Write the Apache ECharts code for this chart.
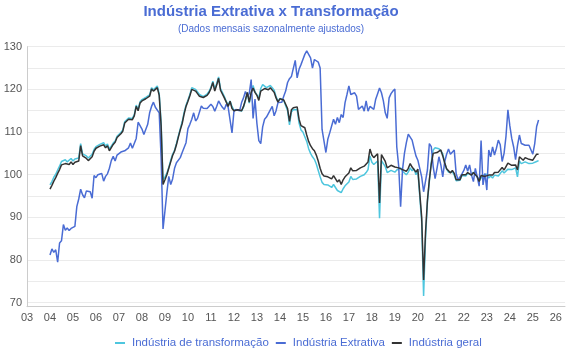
<!DOCTYPE html>
<html><head><meta charset="utf-8">
<script src="https://cdn.jsdelivr.net/npm/echarts@6/dist/echarts.min.js"></script>
<style>html,body{margin:0;padding:0;background:#fff}#c{width:570px;height:360px}</style>
</head><body><div id="c"></div>
<script>
// Monthly data, Jan 2004 .. Apr 2025
const startYear = 2004;
const transformacao = [
 97.6, 98.4, 99.4,100.1,101.1,102.0,103.1,103.4,103.5,103.0,103.2,103.8,
 103.2,103.7,103.8,103.9,107.3,104.9,104.7,104.4,103.9,103.6,104.8,105.9,
 106.6,106.2,107.1,106.8,107.5,106.7,107.2,106.0,105.7,107.4,107.9,109.0,
 109.2,109.9,110.5,112.4,112.8,113.3,112.9,113.2,114.1,116.3,115.3,117.1,
 117.6,117.8,118.1,118.4,118.7,120.4,119.9,119.5,120.8,119.0,112.3, 98.7,
 99.5,100.4,101.7,103.4,104.8,105.7,107.3,109.1,110.8,112.4,114.6,116.3,
 117.5,118.8,120.4,120.7,120.0,119.4,118.8,118.4,118.3,118.6,118.9,119.5,
 120.5,121.9,120.0,121.4,122.9,120.2,119.9,118.3,117.2,116.3,117.3,116.0,
 115.1,114.9,115.2,114.9,114.9,115.8,117.4,119.3,116.8,119.0,120.9,119.4,
 119.0,118.0,120.2,121.1,120.9,120.4,120.5,120.9,120.4,119.8,118.3,117.1,
 117.9,118.0,117.4,117.4,115.0,111.7,114.7,115.2,115.0,115.3,112.1,110.5,
 110.0,109.6,107.8,106.1,105.0,104.2,103.6,102.5,101.0, 99.5, 98.2, 97.7,
 97.9, 97.6, 97.8, 97.0, 97.7, 97.3, 96.3, 96.7, 95.8, 96.7, 97.4, 97.7,
 98.3, 99.6, 98.9, 98.9, 99.0, 98.9, 99.6, 99.6,100.0,100.5,101.2,104.4,
 102.9,102.4,102.6,103.2, 89.8,103.3,103.4,101.9,100.5,100.9,101.0,100.8,
 100.6,101.1,101.5,101.6,100.8,101.0,100.0,100.6,101.6,100.9,101.4,100.0,
 100.8,100.6, 89.0, 71.6, 85.0, 93.6, 98.5,102.9,105.8,106.3,105.9,106.1,
 106.2,104.9,102.8,101.3,100.6,100.2,100.7, 99.9, 98.6, 98.8, 98.7, 99.8,
 99.9, 99.7,100.3,100.0, 99.9,100.6,100.0, 99.5, 98.5, 98.9, 99.9, 99.5,
 100.1, 99.2, 99.7, 99.2, 99.9,100.1, 99.7,100.1,100.9,100.4,100.8,101.3,
 101.1,101.2,101.0,101.6, 99.5,103.2,102.6,102.4,103.0,102.6,102.6,102.4,
 102.7,102.6,103.1,103.3
];
const extrativa = [
 81.2, 82.6, 81.8, 82.4, 79.5, 84.0, 84.5, 88.3, 87.0, 87.5, 86.9, 87.4,
 87.0, 87.9, 92.5, 94.3, 96.6, 95.3, 94.6, 96.2, 96.4, 96.0, 94.5, 99.8,
 99.3,100.0, 99.7,100.3, 98.5, 99.6,100.2,101.5,103.3,104.3,103.2,104.6,
 105.0,105.3,105.5,105.6,106.0,106.3,107.4,106.2,106.0,108.5,112.3,112.4,
 110.7,109.4,109.8,111.8,114.5,116.0,117.0,115.8,116.2,114.5,104.0, 87.3,
 91.5, 95.8, 99.6, 97.7, 99.0,101.5,102.8,103.2,104.0,105.2,104.8,107.5,
 110.8,111.8,113.0,114.5,112.6,113.2,113.0,116.1,115.6,115.3,115.5,115.7,
 116.5,116.0,114.9,116.0,117.3,116.5,115.8,115.3,116.5,115.8,116.2,109.8,
 114.8,115.3,115.7,115.0,116.9,118.0,119.5,118.3,119.0,122.3,113.2,117.7,
 112.0,108.0,107.3,111.2,113.0,113.5,113.8,115.2,116.0,113.8,115.0,116.9,
 116.8,117.0,118.4,119.6,121.6,122.5,123.0,122.8,126.8,122.7,124.7,125.8,
 127.0,128.2,129.0,128.6,127.4,125.0,127.0,126.6,126.4,125.0,110.6,110.2,
 105.2,108.3,109.8,111.4,113.0,111.8,113.4,112.2,114.1,113.4,116.9,118.8,
 120.8,118.8,118.8,119.2,118.4,115.3,114.9,116.1,114.9,117.3,114.9,116.0,
 116.0,115.3,117.7,119.0,120.3,119.2,117.3,114.5,113.2,118.0,119.0,119.6,
 120.1,106.5,102.0, 92.5,101.2,105.0,107.5,109.5,109.4,108.1,106.2,104.4,
 103.4,103.0, 99.5, 96.0, 98.5,101.1,107.3,106.6,101.9, 99.1,101.5,104.2,
 102.3, 99.5,103.0,104.8,106.0,104.8,104.5,105.8,100.2, 98.8, 99.1,100.2,
 101.0,102.3,100.8,102.3, 99.9, 98.4,101.5, 99.5, 97.3,108.0, 97.6,100.3,
 96.4,105.8,104.2,106.5,104.6,106.2,108.1,107.0,103.1,105.0,109.0,115.2,
 111.5,108.5,106.5,103.5,106.8,109.3,107.3,107.7,106.9,106.6,106.9,107.3,
 104.8,107.3,111.3,112.8
];
const geral = [
 96.6, 97.5, 98.5, 99.3,100.3,101.2,102.3,102.5,102.6,102.2,102.4,103.0,
 102.4,102.9,103.0,103.2,106.8,104.4,104.1,103.8,103.3,103.0,104.2,105.5,
 106.2,105.8,106.7,106.4,107.0,106.3,106.8,105.6,105.4,107.1,107.6,108.7,
 108.9,109.6,110.2,112.1,112.5,113.0,112.6,112.9,113.8,116.0,115.0,116.8,
 117.3,117.5,117.8,118.2,118.4,120.1,119.6,119.2,120.4,118.6,111.5, 97.7,
 98.8,100.0,101.5,103.0,104.5,105.5,107.0,108.8,110.5,112.0,114.2,116.0,
 117.2,118.5,120.0,120.4,119.6,119.0,118.4,118.2,118.1,118.3,118.6,119.2,
 120.2,121.6,119.6,121.0,122.6,119.8,119.5,118.0,117.0,116.0,117.2,115.5,
 115.0,114.9,115.2,114.9,115.0,116.0,117.5,119.3,117.0,119.3,120.3,119.3,
 118.6,117.4,119.6,120.0,120.2,119.8,119.9,120.4,120.0,119.3,118.0,117.0,
 117.8,118.0,117.5,117.6,115.5,112.5,115.2,115.7,115.8,115.9,113.0,111.5,
 111.3,111.0,109.3,107.8,106.8,106.1,105.6,104.6,103.2,101.5,100.2, 99.7,
 99.8, 99.5, 99.7, 99.0, 99.8, 99.4, 98.3, 98.8, 97.7, 98.8, 99.5, 99.8,
 100.4,101.6,100.9,100.9,101.0,100.9,101.6,101.6,102.0,102.4,103.0,106.0,
 104.6,104.0,104.3,104.9, 93.4,104.7,104.8,103.1,101.6,102.0,102.2,101.9,
 101.8,101.5,101.6,101.4,101.2,101.6,100.8,101.5,102.6,101.8,102.2,100.6,
 101.3,101.0, 90.0, 75.3, 86.5, 94.0, 98.8,102.5,105.0,105.4,105.2,105.6,
 105.8,104.4,102.8,101.4,100.9,100.4,101.0,100.3, 98.8, 98.9, 98.8,100.0,
 100.1,100.0,100.5,100.3, 99.9,100.5,100.2, 99.5, 98.4, 99.8, 99.9, 99.6,
 99.8, 99.9,100.3, 99.9,100.5,100.8,100.6,101.0,101.7,101.1,101.9,102.7,
 102.3,102.2,101.9,102.3,101.1,104.2,103.8,103.4,104.0,103.6,103.6,103.4,
 103.4,103.5,104.8,104.8
];
const seriesNames = ['Indústria de transformação', 'Indústria Extrativa', 'Indústria geral'];
const seriesColors = ['#4ec6de', '#4a6cd4', '#333333'];
const titleText = 'Indústria Extrativa x Transformação';
const subtitleText = '(Dados mensais sazonalmente ajustados)';

function toPairs(arr){ return arr.map((v,i)=>[startYear + i/12, v]); }

const chart = echarts.init(document.getElementById('c'), null, {renderer:'canvas'});
const font = "'Liberation Sans', Arial, sans-serif";
chart.setOption({
  animation: false,
  backgroundColor: '#fff',
  textStyle: {fontFamily: font},
  title: [
    {text: titleText, left: 271, top: 4, textAlign: 'center', padding: 0,
     textStyle: {fontSize: 15, fontWeight: 'bold', color: '#4a6cd4', fontFamily: font}},
    {text: subtitleText, left: 271, top: 24, textAlign: 'center', padding: 0,
     textStyle: {fontSize: 10, fontWeight: 'normal', color: '#4a6cd4', fontFamily: font}}
  ],
  legend: {
    left: 115, top: 337, padding: 0, itemWidth: 10, itemHeight: 2, itemGap: 7,
    icon: 'rect',
    textStyle: {fontSize: 11.5, color: '#4a6cd4', fontFamily: font, padding: [0,0,0,2]},
    data: seriesNames.map((n,i)=>({name:n, itemStyle:{color:seriesColors[i]}}))
  },
  grid: {left: 27, right: 5, top: 46.7, bottom: 53.3, containLabel: false},
  xAxis: {
    type: 'value', min: 2003, max: 2026.4, interval: 1,
    axisLine: {show: true, lineStyle: {color: '#cccccc'}},
    axisTick: {show: false},
    splitLine: {show: false},
    axisLabel: {color: '#555', fontSize: 11, margin: 6, showMaxLabel: false,
      formatter: v => Number.isInteger(v) ? String(v % 100).padStart(2,'0') : ''}
  },
  yAxis: {
    type: 'value', min: 69.06, max: 130, splitNumber: 12,
    axisLine: {show: true, lineStyle: {color: '#cccccc'}},
    axisTick: {show: false},
    splitLine: {show: true, lineStyle: {color: '#ebebeb'}},
    axisLabel: {color: '#555', fontSize: 11, margin: 5, showMinLabel: false,
      formatter: v => (Math.abs(v % 10) < 1e-6 ? String(v) : '')}
  },
  series: [
    {name: seriesNames[0], type: 'line', data: toPairs(transformacao), symbol: 'none', color: seriesColors[0], lineStyle: {width: 1.5}},
    {name: seriesNames[1], type: 'line', data: toPairs(extrativa), symbol: 'none', color: seriesColors[1], lineStyle: {width: 1.5}},
    {name: seriesNames[2], type: 'line', data: toPairs(geral), symbol: 'none', color: seriesColors[2], lineStyle: {width: 1.5}}
  ]
});
</script></body></html>
